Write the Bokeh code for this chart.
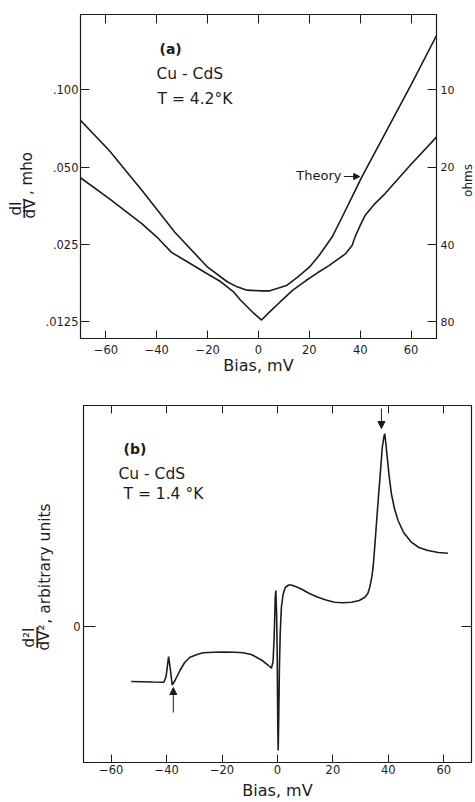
import math
from bokeh.plotting import figure
from bokeh.models import Range1d, LinearAxis, LogAxis, FixedTicker, Label, Arrow, NormalHead, Title
from bokeh.layouts import column, row
from bokeh.embed import file_html
from bokeh.resources import INLINE

# ---------------- data: panel (a) ----------------
theory_bias = [-70, -58.7, -45.8, -32.9, -20, -12.3, -8.4, -4.5, 1.3, 4.5, 11, 15.5,
               20, 23.9, 29, 32.9, 36.8, 40.6, 49.7, 60.2, 70]
theory_didv = [0.0761, 0.0581, 0.0406, 0.0279, 0.0204, 0.0179, 0.0171, 0.0166, 0.0165,
               0.0165, 0.0173, 0.0187, 0.0204, 0.0227, 0.0268, 0.0320, 0.0383, 0.0458,
               0.0675, 0.1057, 0.163]
exp_bias = [-70, -58.7, -45.8, -39.4, -34.2, -29, -20, -14.8, -9.7, -7.1, -1.9, 1.2, 4.5,
            8.4, 13.5, 18.7, 23.2, 27.7, 34.2, 36.8, 38, 40, 41.9, 45.8, 49.7, 60.2, 70]
exp_didv = [0.0455, 0.0377, 0.0301, 0.0264, 0.0233, 0.0217, 0.0192, 0.0179, 0.0163, 0.0152,
            0.0135, 0.0127, 0.0137, 0.0149, 0.0166, 0.0181, 0.0194, 0.0207, 0.0230, 0.0248,
            0.0268, 0.0297, 0.0324, 0.0361, 0.0394, 0.0516, 0.0655]
a_xticks = [-60, -40, -20, 0, 20, 40, 60]
a_yticks = [0.0125, 0.025, 0.05, 0.1]
a_ylabels = [".0125", ".025", ".050", ".100"]
a_ohm_labels = ["80", "40", "20", "10"]

# ---------------- data: panel (b) ----------------
b_bias = [-52.8, -45, -41.0, -40.2, -39.3, -38.7, -38.0, -37.0, -35.2, -33.5, -31.6, -29,
          -26.8, -23, -19.6, -15.3, -12.4, -9.5, -7.6, -5.5, -4.0, -2.8, -2.2, -1.6, -1.2,
          -0.8, -0.6, -0.3, -0.1, 0.1, 0.25, 0.45, 0.7, 1.0, 1.4, 2.0, 2.8, 4.0, 5.0, 6.5,
          8.6, 11.5, 14.6, 17.5, 20.6, 23.5, 26.7, 29.5, 31.5, 32.6, 33.3, 34.0, 34.5, 35.1,
          35.7, 36.3, 36.9, 37.8, 38.4, 38.7, 39.1, 39.6, 40.3, 41.1, 42.2, 43.5, 45.5, 48.3,
          51, 54.3, 58, 61.5]
b_d2i = [-5.5, -5.55, -5.57, -5.0, -3.0, -4.2, -5.85, -5.4, -4.4, -3.6, -3.07, -2.8,
         -2.63, -2.57, -2.56, -2.57, -2.63, -2.8, -3.07, -3.4, -3.73, -4.0, -4.17, -3.5, -1.0,
         3.0, 3.6, 1.0, -3.0, -10.0, -12.4, -9.0, -4.0, -0.5, 1.9, 3.2, 3.9, 4.15, 4.15, 4.0,
         3.75, 3.3, 2.93, 2.65, 2.43, 2.38, 2.43, 2.6, 2.93, 3.3, 3.93, 4.9, 5.93, 8.0,
         10.27, 12.5, 14.6, 17.9, 19.0, 19.27, 18.3, 16.9, 15.0, 13.27, 11.8, 10.6, 9.4, 8.43,
         7.9, 7.6, 7.4, 7.33]
b_xticks = [-60, -40, -20, 0, 20, 40, 60]
b_yticks = [0]

FONT = "DejaVu Sans"
INK = "#1c1c1c"
TICK_FS = "11.5px"
ROT = math.pi / 2


def style_axis(ax, ticks, overrides, standoff, tick_len=8, fs=TICK_FS):
    ax.ticker = FixedTicker(ticks=ticks)
    ax.major_label_overrides = overrides
    ax.axis_line_color = None
    ax.major_tick_in = tick_len
    ax.major_tick_out = 0
    ax.major_tick_line_color = INK
    ax.major_tick_line_width = 1
    ax.minor_tick_line_color = None
    ax.major_label_text_font = FONT
    ax.major_label_text_font_size = fs
    ax.major_label_text_color = INK
    ax.major_label_standoff = standoff


def lab(p, sx, sy, text, size, align="left", angle=0.0, bold=False):
    p.add_layout(Label(x=sx, y=sy, x_units="screen", y_units="screen", text=text,
                       text_font=FONT, text_font_size=size,
                       text_font_style="bold" if bold else "normal",
                       text_color=INK, text_align=align, text_baseline="middle",
                       angle=angle))


def base_fig(**kw):
    p = figure(output_backend="svg", toolbar_location=None, **kw)
    p.grid.visible = False
    p.outline_line_color = INK
    p.outline_line_width = 1.2
    p.background_fill_color = "white"
    p.border_fill_color = "white"
    return p


def strip(w, h):
    s = figure(width=w, height=h, min_border=0, x_axis_location=None, y_axis_location=None,
               toolbar_location=None, output_backend="svg",
               x_range=Range1d(0, 1), y_range=Range1d(0, 1))
    s.grid.visible = False
    s.outline_line_color = None
    return s


def bottom_title(p, text, offset, standoff):
    p.add_layout(Title(text=text, align="center", offset=offset, standoff=standoff,
                       text_font=FONT, text_font_size="16px", text_font_style="normal",
                       text_color=INK), "below")


# ---------------- panel (a): page y 0..380, frame x 78..434, y 14..338 ----------------
HA = 380
pa = base_fig(frame_width=356, frame_height=324, x_range=Range1d(-70, 70),
              y_range=Range1d(0.01076, 0.1968), y_axis_type="log",
              min_border_left=36, min_border_right=24, min_border_top=14, min_border_bottom=42)
pa.line(theory_bias, theory_didv, line_color=INK, line_width=1.6)
pa.line(exp_bias, exp_didv, line_color=INK, line_width=1.6)

style_axis(pa.xaxis[0], a_xticks, {}, 6)
style_axis(pa.yaxis[0], a_yticks, dict(zip(a_yticks, a_ylabels)), 2, tick_len=9)
ra = LogAxis()
style_axis(ra, a_yticks, dict(zip(a_yticks, a_ohm_labels)), 4, tick_len=9, fs="11px")
pa.add_layout(ra, "right")
ta = LinearAxis()
style_axis(ta, a_xticks, {t: "" for t in a_xticks}, 0, tick_len=9)
pa.add_layout(ta, "above")
bottom_title(pa, "Bias, mV", 12, -6)

# in-frame texts (frame-relative px)
lab(pa, 79, 290, "(a)", "14px", bold=True)
lab(pa, 76, 265, "Cu - CdS", "15.5px")
lab(pa, 77, 240, "T = 4.2°K", "15.5px")
lab(pa, 261, 163, "Theory", "13px", align="right")
pa.add_layout(Arrow(end=NormalHead(size=6, fill_color=INK, line_color=INK),
                    x_start=33.6, y_start=0.046, x_end=39.8, y_end=0.046,
                    line_color=INK, line_width=1))

# left label strip (a): page x 0..42, frame aligned with pa (bottom at y=338)
la = strip(42, HA)
lab(la, 15.5, 130, "dI", "15px", align="center", angle=ROT)
lab(la, 22.5, 130, "—", "21px", align="center", angle=ROT)
lab(la, 29.5, 130, "dV", "15px", align="center", angle=ROT)
lab(la, 26, 165, ", mho", "15px", align="center", angle=ROT)

# right label strip (a): narrow strip right of the ohm axis
rsa = strip(16, HA)
lab(rsa, 7.5, 158, "ohms", "12px", align="center", angle=ROT)

# ---------------- panel (b): page y 380..802, frame x 83..471, y 405..762 ----------------
HB = 422
pb = base_fig(frame_width=388, frame_height=357, x_range=Range1d(-70, 70),
              y_range=Range1d(-13.6, 22.1),
              min_border_left=17, min_border_right=4, min_border_top=25, min_border_bottom=40)
pb.line(b_bias, b_d2i, line_color=INK, line_width=1.6)

style_axis(pb.xaxis[0], b_xticks, {}, 2)
style_axis(pb.yaxis[0], b_yticks, {0: "0"}, 3, tick_len=12)
rb = LinearAxis()
style_axis(rb, b_yticks, {0: ""}, 0, tick_len=10)
pb.add_layout(rb, "right")
tb = LinearAxis()
style_axis(tb, b_xticks, {t: "" for t in b_xticks}, 0, tick_len=8)
pb.add_layout(tb, "above")
bottom_title(pb, "Bias, mV", 1, 5)

lab(pb, 40, 314, "(b)", "14px", bold=True)
lab(pb, 35, 289, "Cu - CdS", "15.5px")
lab(pb, 40, 269, "T = 1.4 °K", "15.5px")
pb.add_layout(Arrow(end=NormalHead(size=7, fill_color=INK, line_color=INK),
                    x_start=37.5, y_start=21.8, x_end=37.5, y_end=19.8,
                    line_color=INK, line_width=1))
pb.add_layout(Arrow(end=NormalHead(size=7, fill_color=INK, line_color=INK),
                    x_start=-37.6, y_start=-8.6, x_end=-37.6, y_end=-6.1,
                    line_color=INK, line_width=1))

# left label strip (b): page x 0..66, frame aligned with pb (bottom at y=762)
lb = strip(66, HB)
lab(lb, 28, 125, "d²I", "15px", align="center", angle=ROT)
lab(lb, 35.5, 125, "—", "23px", align="center", angle=ROT)
lab(lb, 43, 125, "dV²", "15px", align="center", angle=ROT)
lab(lb, 44.5, 199, ", arbitrary units", "15.5px", align="center", angle=ROT)

layout = column(row(la, pa, rsa), row(lb, pb))
open("out.html", "w").write(file_html(layout, INLINE))
